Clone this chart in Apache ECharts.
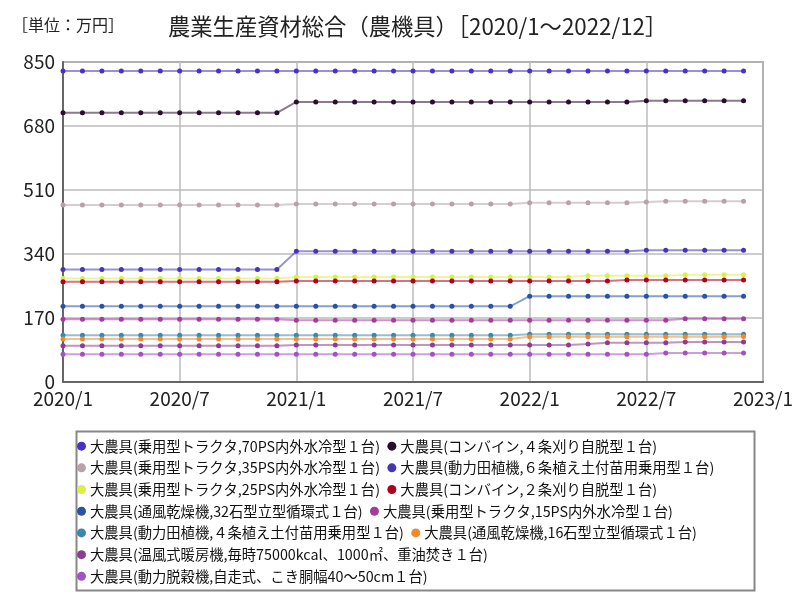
<!DOCTYPE html>
<html><head><meta charset="utf-8">
<script src="https://cdn.jsdelivr.net/npm/echarts@6/dist/echarts.min.js"></script>
<style>html,body{margin:0;padding:0;background:#fff}#c{width:800px;height:600px}</style>
</head><body><div id="c"></div>
<script>
// Categories: months 2020/1 .. 2023/1
const months = [];
for (let y = 2020; y <= 2023; y++) for (let m = 1; m <= 12; m++) { if (y === 2023 && m > 1) break; months.push(y + '/' + m); }

const seriesNames = [
  '大農具(乗用型トラクタ,70PS内外水冷型１台)',
  '大農具(コンバイン,４条刈り自脱型１台)',
  '大農具(乗用型トラクタ,35PS内外水冷型１台)',
  '大農具(動力田植機,６条植え土付苗用乗用型１台)',
  '大農具(乗用型トラクタ,25PS内外水冷型１台)',
  '大農具(コンバイン,２条刈り自脱型１台)',
  '大農具(通風乾燥機,32石型立型循環式１台)',
  '大農具(乗用型トラクタ,15PS内外水冷型１台)',
  '大農具(動力田植機,４条植え土付苗用乗用型１台)',
  '大農具(通風乾燥機,16石型立型循環式１台)',
  '大農具(温風式暖房機,毎時75000kcal、1000㎡、重油焚き１台)',
  '大農具(動力脱穀機,自走式、こき胴幅40～50cm１台)'
];

// values 2020/1 .. 2022/12 (36 months), 万円
const tractor70 = [826,826,826,826,826,826,826,826,826,826,826,826, 826,826,826,826,826,826,826,826,826,826,826,826, 826,826,826,826,826,826,826,826,826,826,826,826];
const combine4 = [715,715,715,715,715,715,715,715,715,715,715,715, 744,744,744,744,744,744,744,744,744,744,744,744, 744,744,744,744,744,744,747,747,747,747,747,747];
const tractor35 = [470,470,470,470,470,470,470,470,470,470,470,470, 473,473,473,473,473,473,473,473,473,473,473,473, 476,476,476,476,476,476,478,480,480,480,480,480];
const planter6 = [299,299,299,299,299,299,299,299,299,299,299,299, 347,347,347,347,347,347,347,347,347,347,347,347, 347,347,347,347,347,347,350,350,350,350,350,350];
const tractor25 = [275,275,275,275,275,275,275,275,275,275,275,275, 279,279,279,279,279,279,279,279,279,279,279,279, 279,279,279,282,282,282,282,282,285,285,285,285];
const combine2 = [266,266,266,266,266,266,266,266,266,266,266,266, 268,268,268,268,268,268,268,268,268,268,268,268, 268,268,268,268,268,271,271,271,271,271,271,271];
const dryer32 = [201,201,201,201,201,201,201,201,201,201,201,201, 201,201,201,201,201,201,201,201,201,201,201,201, 228,228,228,228,228,228,228,228,228,228,228,228];
const tractor15 = [167,167,167,167,167,167,167,167,167,167,167,167, 164,164,164,164,164,164,164,164,164,164,164,164, 164,164,164,164,164,164,164,164,168,168,168,168];
const planter4 = [124,124,124,124,124,124,124,124,124,124,124,124, 124,124,124,124,124,124,124,124,124,124,124,124, 127,127,127,127,127,127,127,127,127,127,127,127];
const dryer16 = [114,114,114,114,114,114,114,114,114,114,114,114, 114,114,114,114,114,114,114,114,114,114,114,114, 120,120,120,120,120,120,120,120,120,120,120,121];
const heater = [96,96,96,96,96,96,96,96,96,96,96,96, 98,98,98,98,98,98,98,98,98,98,98,98, 98,98,98,101,104,104,104,104,106,106,106,106];
const thresher = [74,74,74,74,74,74,74,74,74,74,74,74, 74,74,74,74,74,74,74,74,74,74,74,74, 74,74,74,74,74,74,74,77,77,77,77,77];

const yTicks = [0, 170, 340, 510, 680, 850];

const allData = [tractor70, combine4, tractor35, planter6, tractor25, combine2, dryer32, tractor15, planter4, dryer16, heater, thresher];
const colors = ['#4b30c8','#2a0c2c','#b8a2a8','#4636b2','#dcee4c','#b0001e','#2a52a2','#a43ca0','#3a88b0','#f08a2c','#8e3c92','#a252c2'];

const chart = echarts.init(document.getElementById('c'), null, {renderer: 'canvas'});
const numFont = "'Liberation Sans Narrow','Noto Sans CJK JP',sans-serif";
const jpFont = "'Noto Sans CJK JP',sans-serif";

chart.setOption({
  animation: false,
  backgroundColor: '#fff',
  graphic: [
    {type: 'text', left: 12, top: 17, style: {text: '［単位：万円］', font: "16px 'Noto Sans CJK JP'", fill: '#222'}},
    {type: 'text', left: 168, top: 15, style: {text: '農業生産資材総合（農機具）［2020/1～2022/12］', font: "22.3px 'Noto Sans CJK JP'", fill: '#222'}},
    {type: 'rect', left: 74, top: 429, shape: {width: 678, height: 159}, style: {fill: 'none', stroke: '#888', lineWidth: 2}}
  ],
  grid: {left: 63, right: 37, top: 62, bottom: 218, show: true, borderColor: '#777', borderWidth: 1.5, containLabel: false},
  xAxis: {
    type: 'category', data: months, boundaryGap: false,
    axisLine: {lineStyle: {color: '#666', width: 2}},
    axisTick: {show: false},
    axisLabel: {interval: 5, color: '#222', fontSize: 19, fontFamily: numFont, margin: 7},
    splitLine: {show: true, interval: 5, lineStyle: {color: '#bbb', width: 1.5}}
  },
  yAxis: {
    type: 'value', min: 0, max: 850, interval: 170,
    axisLine: {show: true, lineStyle: {color: '#666', width: 2}},
    axisTick: {show: false},
    axisLabel: {color: '#222', fontSize: 19, fontFamily: numFont, margin: 8,
      customValues: yTicks},
    splitLine: {lineStyle: {color: '#bbb', width: 1.5}}
  },
  legend: {
    left: 77, top: 439, width: 665, itemGap: 7.4, itemWidth: 9, itemHeight: 9,
    icon: 'circle', padding: 0,
    textStyle: {fontSize: 14.3, fontFamily: jpFont, color: '#111', padding: [0,2,0,-1]},
    data: seriesNames
  },
  series: seriesNames.map((n, i) => ({
    name: n, type: 'line', data: allData[i],
    symbol: 'circle', symbolSize: 5, showSymbol: true,
    itemStyle: {color: colors[i]},
    lineStyle: {color: colors[i], width: 2, opacity: 0.55},
    emphasis: {disabled: true}
  }))
});
</script></body></html>
